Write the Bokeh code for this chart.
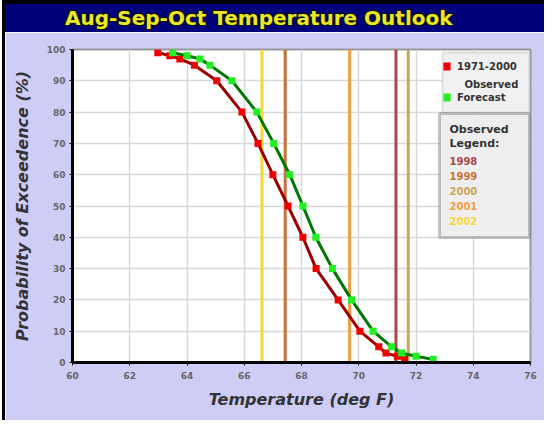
from bokeh.plotting import figure
from bokeh.models import (Div, Span, Legend, LegendItem, Label, BoxAnnotation,
                          ColumnDataSource, FixedTicker, Range1d)
from bokeh.layouts import column
from bokeh.embed import file_html
from bokeh.resources import INLINE

# ---------------- data ----------------
prob_levels = [99, 98, 97, 95, 90, 80, 70, 60, 50, 40, 30, 20, 10, 5, 3, 2, 1]
observed_temps = [62.98, 63.40, 63.75, 64.26, 65.04, 65.92, 66.48, 67.00, 67.53,
                  68.05, 68.51, 69.28, 70.04, 70.70, 70.95, 71.35, 71.60]
forecast_temps = [63.50, 64.00, 64.45, 64.80, 65.57, 66.44, 67.03, 67.59, 68.05,
                  68.50, 69.08, 69.75, 70.50, 71.15, 71.50, 72.00, 72.60]
obs_years = ["1998", "1999", "2000", "2001", "2002"]
obs_year_temps = [71.30, 67.43, 71.73, 69.68, 66.62]
obs_year_colors = ["#a84848", "#c8703a", "#c8a858", "#eea040", "#f5d838"]
x_ticks = list(range(60, 77, 2))
y_ticks = list(range(0, 101, 10))

TITLE = "Aug-Sep-Oct Temperature Outlook"
FONT = "DejaVu Sans"
LAVENDER = "#cdcdf6"

title_div = Div(
    text=('<div style="box-sizing:border-box;width:539px;height:32px;background:#00007a;'
          'border-top:4px solid #000;padding-left:60px;font-family:\'DejaVu Sans\';'
          'font-weight:bold;font-size:20px;line-height:28px;color:#e8e828;white-space:nowrap;'
          'text-shadow:1px 1px 0 #111,-1px -1px 0 #111,1px -1px 0 #111,-1px 1px 0 #111;">'
          + TITLE + '</div>'),
    width=539, height=32, margin=0)

p = figure(width=539, height=388, output_backend="svg", toolbar_location=None,
           x_range=Range1d(60, 76), y_range=Range1d(0, 100),
           min_border_left=67, min_border_right=14, min_border_top=17, min_border_bottom=58,
           background_fill_color="white", border_fill_color=LAVENDER,
           outline_line_color="#999999", outline_line_width=2)

# axes
p.xaxis.ticker = FixedTicker(ticks=x_ticks)
p.yaxis.ticker = FixedTicker(ticks=y_ticks)
for ax in (p.xaxis[0], p.yaxis[0]):
    ax.axis_line_color = "black"
    ax.axis_line_width = 3
    ax.major_tick_line_color = "black"
    ax.major_tick_out = 3
    ax.major_tick_in = 0
    ax.minor_tick_line_color = None
    ax.major_label_text_font = FONT
    ax.major_label_text_font_size = "9px"
    ax.major_label_text_font_style = "bold"
    ax.major_label_text_color = "#666666"
    ax.axis_label_text_font = FONT
    ax.axis_label_text_font_size = "16px"
    ax.axis_label_text_font_style = "bold italic"
    ax.axis_label_text_color = "#333333"
p.xaxis.axis_label = "Temperature (deg F)"
p.yaxis.axis_label = "Probability of Exceedence (%)"
p.xaxis.axis_label_standoff = 8
p.yaxis.axis_label_standoff = 12
p.xaxis.major_label_standoff = 6
p.yaxis.major_label_standoff = 4

p.xgrid.grid_line_color = "#d8d8d8"
p.ygrid.grid_line_color = "#d8d8d8"
p.xgrid.grid_line_width = 1.5
p.ygrid.grid_line_width = 1.5

# observed-year vertical lines
for t, c in zip(obs_year_temps, obs_year_colors):
    p.add_layout(Span(location=t, dimension="height", line_color=c, line_width=3,
                      level="underlay"))

# curves
obs_src = ColumnDataSource(dict(t=observed_temps, p=prob_levels))
fc_src = ColumnDataSource(dict(t=forecast_temps, p=prob_levels))

p.line("t", "p", source=obs_src, line_color="#990000", line_width=3)
obs_pts = p.rect("t", "p", width=7, height=7, width_units="screen", height_units="screen",
                 source=obs_src, fill_color="#ee0000", line_color=None)
p.line("t", "p", source=fc_src, line_color="#007700", line_width=3)
fc_pts = p.rect("t", "p", width=7, height=7, width_units="screen", height_units="screen",
                source=fc_src, fill_color="#22ee22", line_color=None)

# legend box 1 (background drawn separately so the second text line shows)
p.add_layout(BoxAnnotation(left=370, right=457, top=310, bottom=250,
                           left_units="screen", right_units="screen",
                           top_units="screen", bottom_units="screen",
                           fill_color="#f0f0f0", fill_alpha=1,
                           line_color="#aaaaaa", line_width=2, level="annotation"))
legend = Legend(items=[LegendItem(label="1971-2000", renderers=[obs_pts]),
                       LegendItem(label="Forecast", renderers=[fc_pts])],
                location=(370, 256), margin=0, padding=5, spacing=13,
                glyph_width=9, glyph_height=10, label_height=18, label_width=64,
                label_standoff=6, label_text_font=FONT, label_text_font_size="10px",
                label_text_font_style="bold", label_text_color="#333333",
                background_fill_alpha=0, border_line_color=None)
p.add_layout(legend)
p.add_layout(Label(x=392, y=278, x_units="screen", y_units="screen", text="Observed",
                   text_font=FONT, text_font_size="10px", text_font_style="bold",
                   text_color="#333333", text_baseline="middle", level="overlay"))

# legend box 2 (observed years)
p.add_layout(BoxAnnotation(left=367, right=457, top=249, bottom=125,
                           left_units="screen", right_units="screen",
                           top_units="screen", bottom_units="screen",
                           fill_color="#eeeeee", fill_alpha=1,
                           line_color="#444444", line_width=3, level="annotation"))
p.add_layout(Label(x=377, y=233, x_units="screen", y_units="screen", text="Observed",
                   text_font=FONT, text_font_size="11px", text_font_style="bold",
                   text_color="#333333", text_baseline="middle", level="overlay"))
p.add_layout(Label(x=377, y=219, x_units="screen", y_units="screen", text="Legend:",
                   text_font=FONT, text_font_size="11px", text_font_style="bold",
                   text_color="#333333", text_baseline="middle", level="overlay"))
for i, (yr, c) in enumerate(zip(obs_years, obs_year_colors)):
    p.add_layout(Label(x=377, y=202 - 15 * i, x_units="screen", y_units="screen", text=yr,
                       text_font=FONT, text_font_size="10px", text_font_style="bold",
                       text_color=c, text_baseline="middle", level="overlay"))

page = column(title_div, p, spacing=0,
              styles={"border-left": "3px solid black", "margin-left": "2px"})

open("out.html", "w").write(file_html(page, INLINE))
